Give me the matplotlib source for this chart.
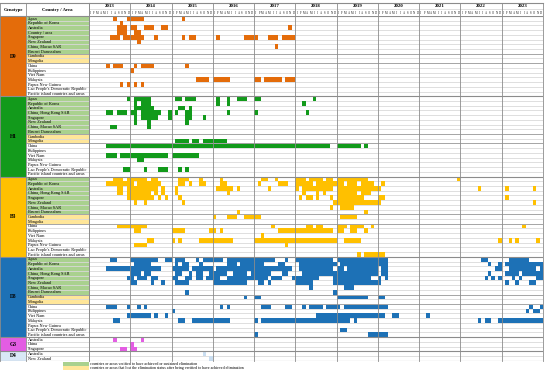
import matplotlib
matplotlib.use('Agg')
import matplotlib.pyplot as plt

# ---------------- data ----------------
years = list(range(2013, 2024))
month_letters = ['J', 'F', 'M', 'A', 'M', 'J', 'J', 'A', 'S', 'O', 'N', 'D']

genotypes = ['D9', 'H1', 'B3', 'D8', 'G3', 'D4']
genotype_colors = ['#E46C0A', '#129A1B', '#FFC000', '#1D71B6', '#E35DE3', '#D9E8F6']
mark_colors = ['#E46C0A', '#129A1B', '#FFC000', '#1D71B6', '#E35DE3', '#C9DDF0']

main_countries = ['Japan', 'Republic of Korea', 'Australia', 'China, Hong Kong SAR',
                  'Singapore', 'New Zealand', 'China, Macao SAR', 'Brunei Darussalam',
                  'Cambodia', 'Mongolia', 'China', 'Philippines', 'Viet Nam', 'Malaysia',
                  'Papua New Guinea', "Lao People's Democratic Republic",
                  'Pacific island countries and areas']
d9_countries = main_countries[:3] + ['Country / area'] + main_countries[4:]
g3_countries = ['Australia', 'China', 'Singapore']
d4_countries = ['Australia', 'New Zealand']
main_status = ['elim'] * 8 + ['lost'] * 2 + [''] * 7

# months with detections, month index 0 = Jan 2013
d9_months = ["7,11-15,27", "9", "8-10,12-13,16-18,21-22,58", "8-10,13-14",
             "6-8,10-15,19,27,29-30,37,45-48,52-54,56-59", "14", "54", "", "", "",
             "5,7-9,13,15-18,28", "12", "", "31-34,36-40,48-49,51-55,57-59",
             "9,11,13,15", "", ""]
h1_months = ["11,13-17,25-26,28-30,37,40,43-45,48-49,65", "13,15-17,37,40,62",
             "13-18,26-27,29", "5-6,8-10,12-13,15-20,23,25,28-29,40,48,63",
             "13,15-19,23,28-29,33", "13,17,28", "6-7,17", "", "",
             "25-28,30-31,33-39", "5-69,72-78,80", "", "5-7,9-22,24-31", "14-15", "",
             "10-11,16,20-22,26,28", ""]
b3_months = ["7-9,11-16,18-19,26-28,32,38,50-51,54,60-62,64-67,69-70,72-80,107",
             "5-10,11-12,14-20,26-27,29,32-33,38-39,49,55-57,60-64,66-71,72-73,75-77,79-82,85",
             "8-9,11-19,21,25,37-41,43,52,60,62-70,72-84,113,121,129",
             "8-9,11-17,19,21,25,40,62,66,68,72-77,79-81",
             "11-18,20,22,26,61,63-64,66,70,72-79,84-85,121",
             "13,16,27,71-84,129", "70,73-76", "43,80", "36,40-42,45-49,73-77", "",
             "8-16,53,63-64,66-67,72-74,76-79,82,126",
             "13-14,24-27,35-36,38,55-70,72-73,76-77,80", "50",
             "17-18,24,26,32-41,48-71,74-78,119,122,124,130", "13-16,57", "",
             "78,80-85"]
d8_months = ["6-7,12-19,22-23,25-27,31,33-38,40-53,57,60-70,72-86,114-115,122-127",
             "13-17,25,27-28,32,40-42,44-50,55-56,61-71,73-86,116,119,121-132",
             "5-9,10-15,16-20,24-28,30-35,37-44,45-53,54-58,61-70,72-73,75-83,85-86,118-119,122-129,131",
             "12-14,16-17,25-26,29,31-32,35-39,42-45,47-51,52,56-57,62-83,85-86,116,121-124,126-132",
             "11-12,14-16,18-19,24-25,28-29,31-32,34-37,40-51,53-55,59-66,71-81,84,86,115,117,119,123,125,130-132",
             "12-13,18,21,25-28,36-45,49-50,52,60-64,71-84,121,124,128-129",
             "64,74-76", "28,71", "45,48-49,72-80,84-85", "",
             "5-7,11,14,16,38,40,50-52,57-58,62,64-67,69-72,74-86,128,131",
             "24,127,129-130", "11-17,19,22,66-85,88-89,98",
             "7-8,26-27,30-40,48,50-75,77,113,115-116,119-132", "", "73-74", "48,81-86"]
g3_months = ["7,15", "12", "9-10,12-13"]
d4_months = ["33", "35"]

legend_labels = ['countries or areas verified to have achieved or sustained elimination',
                 'countries or areas that lost the elimination status after being verified to have achieved elimination']
status_colors = {'elim': '#A9D18E', 'lost': '#FFE699', '': 'white'}


def parse(s):
    out = []
    for part in s.split(','):
        part = part.strip()
        if not part:
            continue
        if '-' in part:
            a, b = part.split('-')
            out.extend(range(int(a), int(b) + 1))
        else:
            out.append(int(part))
    return out


groups = [
    (d9_countries, main_status, d9_months),
    (main_countries, main_status, h1_months),
    (main_countries, main_status, b3_months),
    (main_countries, main_status, d8_months),
    (g3_countries, [''] * 3, g3_months),
    (d4_countries, [''] * 2, d4_months),
]

# ---------------- layout ----------------
W, H = 550, 377
GL, GR, TOP, BOT = 89, 543, 16, 360.7
CW = 26  # genotype column right edge (px)
nrows = sum(len(g[0]) for g in groups)
nmonths = 12 * len(years)
serif = 'Liberation Serif'

fig = plt.figure(figsize=(W / 100, H / 100), dpi=100)
fig.patch.set_facecolor('white')
ax = fig.add_axes([GL / W, 1 - BOT / H, (GR - GL) / W, (BOT - TOP) / H])
ax.set_xlim(0, nmonths)
ax.set_ylim(nrows, 0)
ax.axis('off')
tax = fig.add_axes([0, 1 - BOT / H, GL / W, (BOT - TOP) / H])
tax.set_xlim(0, GL)
tax.set_ylim(nrows, 0)
tax.axis('off')

LGRAY = '#D9D9D9'
DGRAY = '#8C8C8C'

# light horizontal row lines
for r in range(1, nrows):
    ax.axhline(r, color=LGRAY, lw=0.6, zorder=1)
    tax.plot([CW, GL], [r, r], color=LGRAY, lw=0.6, zorder=1)

row = 0
for gi, (countries, status, months) in enumerate(groups):
    n = len(countries)
    tax.bar(0, n, width=CW, bottom=row, align='edge', color=genotype_colors[gi], lw=0, zorder=0)
    tax.text(CW / 2, row + n / 2, genotypes[gi], ha='center', va='center', fontsize=4,
             fontweight='bold', family=serif, zorder=5)
    for i, (c, st, ms) in enumerate(zip(countries, status, months)):
        r = row + i
        if st:
            tax.bar(CW, 1, width=GL - CW, bottom=r, align='edge', color=status_colors[st], lw=0, zorder=0)
        tax.text(CW + 2, r + 0.55, c, ha='left', va='center', fontsize=3.1, family=serif, zorder=5)
        mm = parse(ms)
        if mm:
            ax.bar(mm, 1, width=1, bottom=r, align='edge', color=mark_colors[gi], lw=0, zorder=2)
    # lines around the "lost" band and group edges
    if 'lost' in status:
        s = status.index('lost')
        for yy in (row + s, row + s + 2):
            ax.axhline(yy, color='#A6A6A6', lw=0.7, zorder=3)
            tax.plot([CW, GL], [yy, yy], color='#A6A6A6', lw=0.7, zorder=3)
    row += n
    ax.axhline(row, color=DGRAY, lw=0.8, zorder=3)
    tax.plot([0, GL], [row, row], color=DGRAY, lw=0.8, zorder=3)

# header
HT = -2.75
HM = -1.4
ax.plot([0, nmonths], [HT, HT], color=DGRAY, lw=0.8, clip_on=False)
ax.plot([0, nmonths], [HM, HM], color=LGRAY, lw=0.6, clip_on=False)
ax.axhline(0, color=DGRAY, lw=0.8, zorder=3)
tax.plot([0, GL], [HT, HT], color=DGRAY, lw=0.8, clip_on=False)
tax.plot([0, GL], [0, 0], color=DGRAY, lw=0.8, clip_on=False)
tax.text(CW / 2, (HT) / 2, 'Genotype', ha='center', va='center', fontsize=3.4,
         fontweight='bold', family=serif)
tax.text((CW + GL) / 2, (HT) / 2, 'Country / Area', ha='center', va='center', fontsize=3.4,
         fontweight='bold', family=serif)
for yi, yr in enumerate(years):
    x0 = yi * 12
    ax.text(x0 + 6, (HT + HM) / 2 + 0.05, str(yr), ha='center', va='center', fontsize=3.5,
            fontweight='bold', family=serif, clip_on=False)
    for mi, ml in enumerate(month_letters):
        ax.text(x0 + mi + 0.5, HM / 2 + 0.05, ml, ha='center', va='center', fontsize=2.1,
                family=serif, clip_on=False)
for yi in range(len(years) + 1):
    ax.plot([yi * 12, yi * 12], [HT, nrows], color=DGRAY, lw=0.6, clip_on=False, zorder=4)
# column borders
for xx in (0.3, CW, GL - 0.2):
    tax.plot([xx, xx], [HT, nrows], color=DGRAY, lw=0.6, clip_on=False, zorder=4)

# legend
leg_y = [nrows + 0.3, nrows + 1.15]
for k, (lab, st) in enumerate(zip(legend_labels, ['elim', 'lost'])):
    tax.bar(63, 0.85, width=GL - 63, bottom=leg_y[k], align='edge', color=status_colors[st],
            lw=0, clip_on=False)
    ax.text(0.4, leg_y[k] + 0.45, lab, ha='left', va='center', fontsize=2.9, family=serif,
            clip_on=False)

fig.savefig('out.png', dpi=100, facecolor='white')
